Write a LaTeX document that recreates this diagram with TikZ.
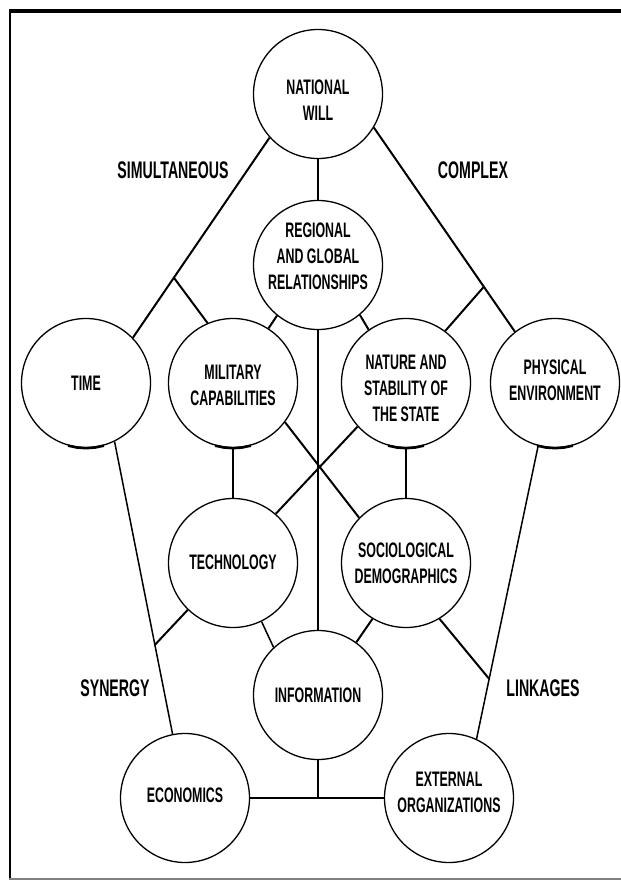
\documentclass[tikz,border=0pt]{standalone}
\usepackage{fontspec}
\newfontfamily\cond{Liberation Sans}[FakeStretch=0.59]
\usetikzlibrary{calc}
\begin{document}
\begin{tikzpicture}[x=1pt,y=-1pt,
  circ/.style={circle,draw,line width=1.3pt,minimum size=129pt,inner sep=0pt},
  txt/.style={font=\cond\bfseries\fontsize{21}{26}\selectfont,align=center,inner sep=0pt},
  lbl/.style={font=\cond\bfseries\fontsize{24}{26}\selectfont,inner sep=0pt},
  conn/.style={line width=2pt},
  vline/.style={line width=1.5pt},
  botmark/.style={line width=2.6pt,line cap=butt}]
\useasboundingbox (0,0) rectangle (621,881);
% frame
\draw[line width=4pt] (9,11) -- (621,11);
\draw[line width=1.5pt] (10,9) -- (10,879);
\draw[line width=2pt,gray] (9,879) -- (621,879);
% circles
\node[circ] (NW) at (318,94) {};
\node[circ] (REG) at (318,265) {};
\node[circ] (TIME) at (86,383) {};
\node[circ] (MIL) at (233,383) {};
\node[circ] (NAT) at (406,383) {};
\node[circ] (PHY) at (555,383) {};
\node[circ] (TECH) at (233,563) {};
\node[circ] (SOC) at (406,563) {};
\node[circ] (INFO) at (318,695) {};
\node[circ] (ECON) at (185,798) {};
\node[circ] (EXT) at (449,798) {};
% texts
\node[txt] (NWt) at (318,100) {NATIONAL\\WILL};
\node[txt] (REGt) at (318,256) {REGIONAL\\AND GLOBAL\\RELATIONSHIPS};
\node[txt] (TIMEt) at (86,383) {TIME};
\node[txt] (MILt) at (233,385) {MILITARY\\CAPABILITIES};
\node[txt] (NATt) at (406,388) {NATURE AND\\STABILITY OF\\THE STATE};
\node[txt] (PHYt) at (555,380) {PHYSICAL\\ENVIRONMENT};
\node[txt] (TECHt) at (233,562) {TECHNOLOGY};
\node[txt] (SOCt) at (406,563) {SOCIOLOGICAL\\DEMOGRAPHICS};
\node[txt] (INFOt) at (318,695) {INFORMATION};
\node[txt] (ECONt) at (185,795) {ECONOMICS};
\node[txt] (EXTt) at (449,792) {EXTERNAL\\ORGANIZATIONS};
% labels
\node[lbl] (L1) at (173,170) {SIMULTANEOUS};
\node[lbl] (L2) at (473,170) {COMPLEX};
\node[lbl] (L3) at (115,688) {SYNERGY};
\node[lbl] (L4) at (543,688) {LINKAGES};
% connectors
\draw[conn] (NW.222) -- coordinate[pos=0.70] (J1) (TIME.44);
\draw[conn] (J1) -- (MIL.113);
\draw[conn] (NW.329) -- coordinate[pos=0.78] (J2) (PHY.128);
\draw[conn] (J2) -- (NAT.53);
\draw[vline] (NW.270) -- (REG.90);
\draw[conn] (REG.231) -- (MIL.57);
\draw[conn] (REG.310) -- (NAT.125);
\draw[vline] (REG.270) -- (INFO.90);
\draw[vline] (MIL.270) -- (TECH.90);
\draw[vline] (NAT.270) -- (SOC.90);
\draw[conn] (MIL.323) -- (SOC.136);
\draw[conn] (NAT.222) -- (TECH.49);
\draw[vline] (TIME.296) -- coordinate[pos=0.695] (J3) (ECON.101);
\draw[conn] (TECH.226) -- (J3);
\draw[vline] (PHY.255) -- coordinate[pos=0.795] (J4) (EXT.65);
\draw[conn] (SOC.301) -- (J4);
\draw[vline] (TECH.296) -- (INFO.133);
\draw[conn] (SOC.239) -- (INFO.54);
\draw[line width=2.5pt] (ECON.east) -- (EXT.west);
\draw[vline] (INFO.south) -- (INFO.south |- ECON.east);
% thickened bottom arcs
\foreach \n in {TIME,MIL,NAT,PHY}{
  \draw[botmark] (\n.254) -- (\n.262) -- (\n.270) -- (\n.278) -- (\n.286);
}
\end{tikzpicture}
\end{document}
